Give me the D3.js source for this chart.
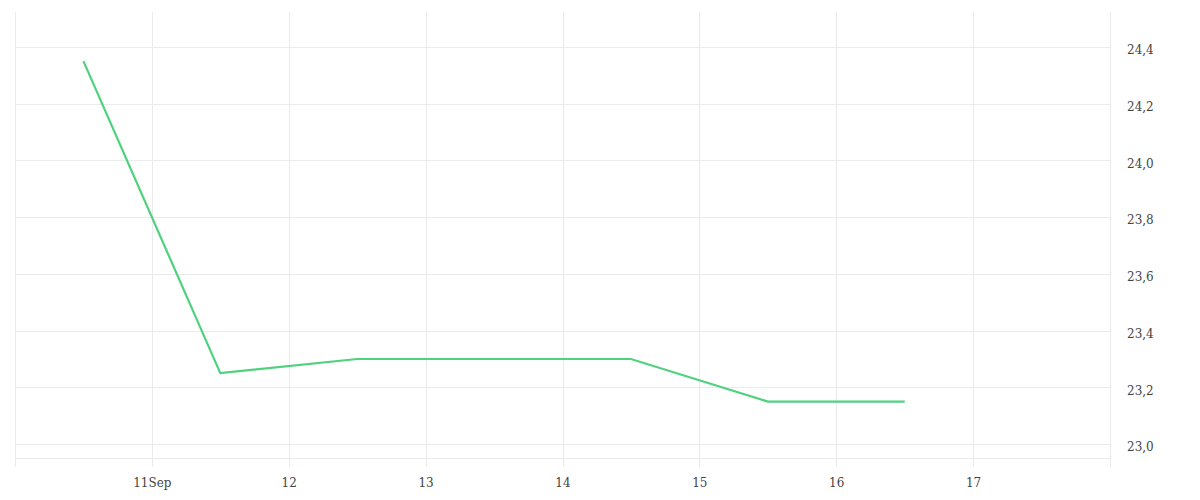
<!DOCTYPE html>
<html><head><meta charset="utf-8">
<script src="https://cdn.jsdelivr.net/npm/d3@7"></script>
<style>
body{margin:0;background:#fff;}
text{font-family:"DejaVu Serif",serif;font-size:12px;fill:#444;}
</style></head>
<body><svg id="c" width="1200" height="500"></svg>
<script>
const dates = ["2023-09-10T12:00","2023-09-11T12:00","2023-09-12T12:00","2023-09-13T12:00","2023-09-14T12:00","2023-09-15T12:00","2023-09-16T12:00"];
const values = [24.35, 23.25, 23.3, 23.3, 23.3, 23.15, 23.15];
const yTicks = [23.0, 23.2, 23.4, 23.6, 23.8, 24.0, 24.2, 24.4];
const xTickDays = ["2023-09-11","2023-09-12","2023-09-13","2023-09-14","2023-09-15","2023-09-16","2023-09-17"];
const xDomain = ["2023-09-10","2023-09-18"];
const yDomain = [22.951, 24.523];

const parse = d3.isoParse;
const svg = d3.select("#c");
const L=15, R=1110, T=12, B=458;
const x = d3.scaleTime().domain(xDomain.map(parse)).range([L,R]);
const y = d3.scaleLinear().domain(yDomain).range([B,T]);
const grid = "#ebebeb";
const FONT = '"DejaVu Serif",serif';

// vertical grid
const vx = [parse(xDomain[0])].concat(xTickDays.map(parse)).concat([parse(xDomain[1])]);
svg.append("g").selectAll("line").data(vx).join("line")
  .attr("x1",d=>Math.round(x(d))+0.5).attr("x2",d=>Math.round(x(d))+0.5)
  .attr("y1",T).attr("y2",467).attr("stroke",grid);
// horizontal grid
svg.append("g").selectAll("line").data(yTicks).join("line")
  .attr("x1",L).attr("x2",R).attr("y1",d=>Math.round(y(d))+0.5).attr("y2",d=>Math.round(y(d))+0.5)
  .attr("stroke",grid);
svg.append("line").attr("x1",L).attr("x2",R).attr("y1",B+0.5).attr("y2",B+0.5).attr("stroke",grid);

// x axis labels
const fmt = d => d.getDate()===11 ? "11Sep" : String(d.getDate());
const xa = d3.axisBottom(x).tickValues(xTickDays.map(parse)).tickFormat(fmt).tickSize(0).tickPadding(0);
const gx = svg.append("g").attr("transform",`translate(0,${B+20})`).call(xa);
gx.select(".domain").remove();
gx.selectAll("text").attr("dy","0.71em").style("font-family",FONT).style("font-size","12px").attr("fill","#444");

// y axis labels
const ya = d3.axisRight(y).tickValues(yTicks).tickFormat(d=>d3.format(".1f")(d).replace(".",",")).tickSize(0).tickPadding(0);
const gy = svg.append("g").attr("transform",`translate(${R+17},3)`).call(ya);
gy.select(".domain").remove();
gy.selectAll("text").style("font-family",FONT).style("font-size","12px").attr("fill","#444");

// line
const line = d3.line().x((d,i)=>x(parse(dates[i]))).y(d=>y(d));
svg.append("path").datum(values).attr("d",line).attr("fill","none")
  .attr("stroke","#4fd17e").attr("stroke-width",2.2).attr("stroke-linejoin","miter");
</script></body></html>
